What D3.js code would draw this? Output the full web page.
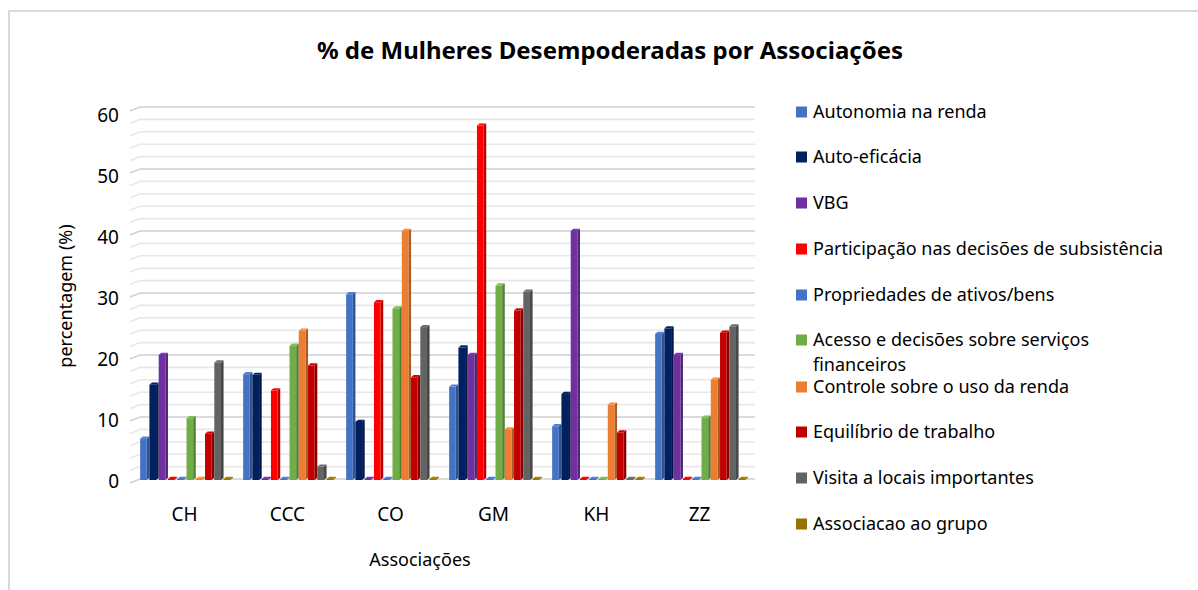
<!DOCTYPE html>
<html>
<head>
<meta charset="utf-8">
<script src="https://cdn.jsdelivr.net/npm/d3@7"></script>
<style>
  body { margin: 0; background: #fff; }
  text { font-family: "Noto Sans", "Open Sans", sans-serif; fill: #000; }
</style>
</head>
<body>
<script>
// tamanho do svg
const w = 1198;
const h = 590;

// dados
const associacoes = ["CH", "CCC", "CO", "GM", "KH", "ZZ"];
const series = [
  "Autonomia na renda",
  "Auto-eficácia",
  "VBG",
  "Participação nas decisões de subsistência",
  "Propriedades de ativos/bens",
  "Acesso e decisões sobre serviços financeiros",
  "Controle sobre o uso da renda",
  "Equilíbrio de trabalho",
  "Visita a locais importantes",
  "Associacao ao grupo",
];
const cores = ["#4472C4", "#002060", "#7030A0", "#FF0000", "#4472C4",
  "#70AD47", "#ED7D31", "#C00000", "#636363", "#997300"];

// uma lista por serie, na ordem das associacoes
const autonomia = [6.5, 16.9, 29.8, 14.9, 8.5, 23.4];
const autoEficacia = [15.2, 16.8, 9.2, 21.2, 13.7, 24.3];
const vbg = [20, 0, 0, 20, 40, 20];
const participacao = [0, 14.3, 28.5, 57, 0, 0];
const propriedades = [0, 0, 0, 0, 0, 0];
const acesso = [9.8, 21.5, 27.5, 31.2, 0, 9.9];
const controle = [0, 23.9, 40, 8, 12, 16];
const equilibrio = [7.3, 18.3, 16.4, 27.2, 7.5, 23.6];
const visita = [18.8, 2, 24.5, 30.2, 0, 24.6];
const associacaoGrupo = [0, 0, 0, 0, 0, 0];
const valores = [autonomia, autoEficacia, vbg, participacao, propriedades,
  acesso, controle, equilibrio, visita, associacaoGrupo];
const yTicks = [0, 10, 20, 30, 40, 50, 60];

const svg = d3.select("body").append("svg").attr("width", w).attr("height", h);

// moldura do grafico
svg.append("path")
  .attr("d", "M9,590 V11 H1198")
  .attr("fill", "none")
  .attr("stroke", "#d9d9d9")
  .attr("stroke-width", 2);

// escalas (parede do fundo e frente, por causa da perspectiva)
const yScale = d3.scaleLinear().domain([0, 60]).range([479, 107]);
const yFront = d3.scaleLinear().domain([0, 60]).range([481, 115]);
const x0 = d3.scaleBand().domain(associacoes).range([135, 753])
  .paddingInner(0.1).paddingOuter(0.05);
const x1 = d3.scaleBand().domain(d3.range(series.length)).range([0, x0.bandwidth()]);

// efeito 3D
const dx = 2.6, dy = 2.2; // profundidade da coluna
const wallLeft = 130, wallFront = 140, wallRight = 755, slant = 4;

// linhas de grade (parede lateral + fundo)
svg.append("g").selectAll("path")
  .data(d3.range(0, 61, 2))
  .join("path")
  .attr("d", d => {
    const y = yScale(d);
    return `M${wallLeft},${y + slant} L${wallFront},${y} H${wallRight}`;
  })
  .attr("fill", "none")
  .attr("stroke", d => d % 10 === 0 ? "#d0d0d0" : "#e8e8e8")
  .attr("stroke-width", 1.6);

// eixo y
const yAxis = d3.axisLeft(yFront).tickValues(yTicks).tickSize(0).tickPadding(0);
svg.append("g")
  .attr("transform", "translate(119,0)")
  .call(yAxis)
  .call(g => g.select(".domain").remove())
  .selectAll("text")
  .style("font-family", "Noto Sans, sans-serif")
  .style("font-size", "19px")
  .attr("fill", "#000");

// colunas
const grupos = svg.append("g").selectAll("g")
  .data(associacoes)
  .join("g")
  .attr("transform", d => "translate(" + x0(d) + ",0)");

const barras = grupos.selectAll("g")
  .data((d, i) => valores.map((s, k) => ({ k: k, v: s[i] })))
  .join("g");

const frente = x1.bandwidth() - dx;

// face lateral
barras.append("path")
  .attr("d", d => {
    const x = x1(d.k) + frente;
    const yt = yScale(d.v), yb = yScale(0) + 1;
    return `M${x},${yt} L${x + dx},${yt - dy} L${x + dx},${yb - dy} L${x},${yb} Z`;
  })
  .attr("fill", d => d3.color(cores[d.k]).darker(0.9));

// face superior
barras.append("path")
  .attr("d", d => {
    const x = x1(d.k);
    const yt = yScale(d.v);
    return `M${x},${yt} L${x + dx},${yt - dy} L${x + frente + dx},${yt - dy} L${x + frente},${yt} Z`;
  })
  .attr("fill", d => d3.color(cores[d.k]).brighter(0.3));

// face frontal
barras.append("rect")
  .attr("x", d => x1(d.k))
  .attr("y", d => yScale(d.v))
  .attr("width", frente)
  .attr("height", d => yScale(0) + 1 - yScale(d.v))
  .attr("fill", d => cores[d.k]);

// rotulos do eixo x
svg.append("g").selectAll("text")
  .data(associacoes)
  .join("text")
  .attr("x", d => x0(d) + x0.bandwidth() / 2 - 2)
  .attr("y", 521)
  .attr("text-anchor", "middle")
  .style("font-size", "19px")
  .text(d => d);

// titulos
svg.append("text")
  .attr("x", 610)
  .attr("y", 59)
  .attr("text-anchor", "middle")
  .style("font-size", "24px")
  .style("font-weight", "bold")
  .text("% de Mulheres Desempoderadas por Associações");

svg.append("text")
  .attr("x", 420)
  .attr("y", 566)
  .attr("text-anchor", "middle")
  .style("font-size", "18px")
  .text("Associações");

svg.append("text")
  .attr("transform", "translate(72,296) rotate(-90)")
  .attr("text-anchor", "middle")
  .style("font-size", "18px")
  .text("percentagem (%)");

// legenda
const legY = [112, 157, 203, 249, 295, 340, 387, 432, 478, 524];
const leg = svg.append("g").selectAll("g")
  .data(series)
  .join("g")
  .attr("transform", (d, i) => "translate(796," + legY[i] + ")");

leg.append("rect")
  .attr("x", 0)
  .attr("y", -5.5)
  .attr("width", 11)
  .attr("height", 11)
  .attr("fill", (d, i) => cores[i]);

leg.append("text")
  .attr("x", 17)
  .attr("y", 6)
  .style("font-size", "18px")
  .each(function (d) {
    const t = d3.select(this);
    if (d.startsWith("Acesso")) {
      t.append("tspan").attr("x", 17).text("Acesso e decisões sobre serviços");
      t.append("tspan").attr("x", 17).attr("dy", 25).text("financeiros");
    } else {
      t.text(d);
    }
  });
</script>
</body>
</html>
